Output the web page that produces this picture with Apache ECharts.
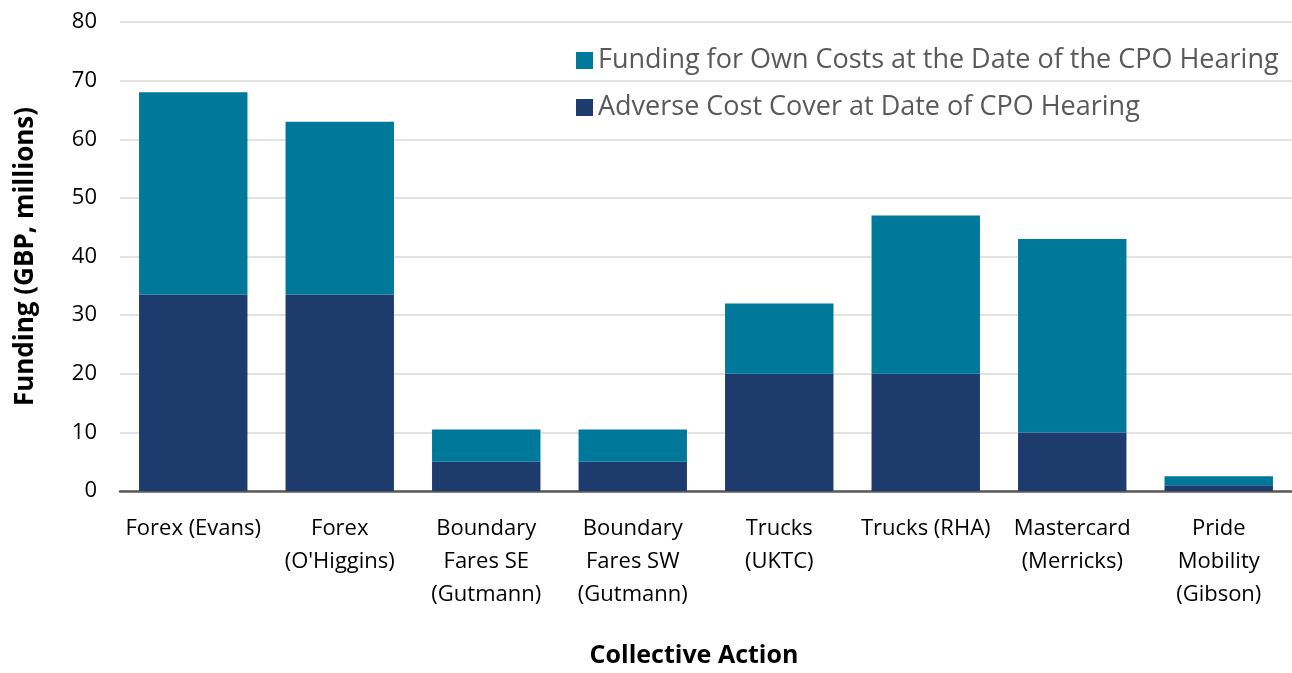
<!DOCTYPE html>
<html><head><meta charset="utf-8">
<script src="https://cdn.jsdelivr.net/npm/echarts@6/dist/echarts.min.js"></script>
<style>html,body{margin:0;padding:0;background:#fff}#c{width:1292px;height:673px}</style>
</head><body><div id="c"></div>
<script>
const categories = ["Forex (Evans)", "Forex\n(O'Higgins)", "Boundary\nFares SE\n(Gutmann)", "Boundary\nFares SW\n(Gutmann)", "Trucks\n(UKTC)", "Trucks (RHA)", "Mastercard\n(Merricks)", "Pride\nMobility\n(Gibson)"];
const adverseCover = [33.5, 33.5, 5, 5, 20, 20, 10, 1];
const ownCosts = [34.5, 29.5, 5.5, 5.5, 12, 27, 33, 1.5];
const yTicks = {min: 0, max: 80, interval: 10};
const seriesNames = ["Funding for Own Costs at the Date of the CPO Hearing", "Adverse Cost Cover at Date of CPO Hearing"];

const FONT = "Open Sans";
const chart = echarts.init(document.getElementById('c'), null, {renderer: 'canvas'});
chart.setOption({
  animation: false,
  textStyle: {fontFamily: FONT},
  grid: {left: 120, right: 0, top: 22, bottom: 175},
  legend: {
    orient: 'vertical', left: 571, top: 42, itemGap: 20,
    icon: 'rect', itemWidth: 17, itemHeight: 17,
    textStyle: {fontSize: 27, color: '#595959', fontFamily: FONT},
    data: [seriesNames[0], seriesNames[1]]
  },
  xAxis: {
    type: 'category', data: categories,
    name: 'Collective Action', nameLocation: 'middle', nameGap: 152,
    nameTextStyle: {fontSize: 25, fontWeight: 'bold', color: '#000', fontFamily: FONT, padding: [0, 24, 0, 0]},
    axisLine: {lineStyle: {color: '#595959', width: 2.5}},
    axisTick: {show: false},
    axisLabel: {fontSize: 22, color: '#000', lineHeight: 33, margin: 21, interval: 0}
  },
  yAxis: {
    type: 'value', min: yTicks.min, max: yTicks.max, interval: yTicks.interval,
    name: 'Funding (GBP, millions)', nameLocation: 'middle', nameGap: 81,
    nameTextStyle: {fontSize: 26, fontWeight: 'bold', color: '#000', fontFamily: FONT},
    axisLine: {show: false}, axisTick: {show: false},
    axisLabel: {fontSize: 22, color: '#000', margin: 23},
    splitLine: {lineStyle: {color: '#d9d9d9', width: 1.5}}
  },
  series: [
    {name: seriesNames[1], type: 'bar', stack: 's', data: adverseCover, barCategoryGap: '26%', itemStyle: {color: '#1e3b6e'}},
    {name: seriesNames[0], type: 'bar', stack: 's', data: ownCosts, barCategoryGap: '26%', itemStyle: {color: '#00789a'}}
  ]
});
</script></body></html>
